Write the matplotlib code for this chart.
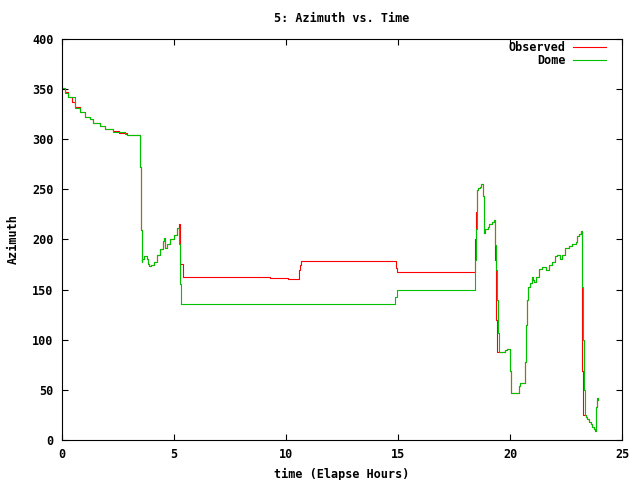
import matplotlib
matplotlib.use("Agg")
import matplotlib.pyplot as plt

# observed azimuth (red), values hold until the next time stamp
obs_t = [0.00, 0.13, 0.28, 0.43, 0.58, 0.81, 1.03, 1.26, 1.40, 1.70, 1.93, 2.29, 2.55, 2.90,
         3.47, 3.53, 3.56, 3.59, 3.65, 3.80, 3.83, 3.87, 3.99, 4.10, 4.25, 4.39, 4.50, 4.54,
         4.59, 4.69, 4.84, 4.99, 5.14, 5.22, 5.29, 5.40, 9.30, 10.10, 10.60, 10.64, 10.69,
         14.89, 14.95, 18.44, 18.47, 18.52, 18.565, 18.64, 18.71, 18.79, 18.82, 18.85, 18.89,
         19.00, 19.07, 19.19, 19.27, 19.34, 19.37, 19.42, 19.76, 19.87, 19.99, 20.03, 20.39,
         20.43, 20.69, 20.73, 20.76, 20.81, 20.88, 20.96, 21.02, 21.06, 21.17, 21.29, 21.43,
         21.61, 21.73, 21.88, 22.03, 22.11, 22.21, 22.33, 22.44, 22.63, 22.75, 22.93, 22.99,
         23.08, 23.18, 23.20, 23.21, 23.27, 23.38, 23.45, 23.53, 23.60, 23.68, 23.75, 23.80,
         23.83, 23.87, 23.95]
obs_az = [351, 347, 342, 337, 332, 327, 322, 320, 316, 313, 310, 308, 306, 304,
          272, 209, 178, 181, 184, 181, 176, 174, 175, 178, 185, 191, 199, 201,
          192, 196, 200, 204, 211, 215, 176, 163, 162, 161, 170, 175, 179,
          172, 168, 200, 227, 249, 251, 252.5, 255, 243, 219, 206, 210,
          212, 215, 217, 219, 180, 120, 88, 90, 91, 69, 47, 54,
          57, 78, 115, 140, 153, 157, 163, 160, 158, 163, 171, 173,
          170, 175, 178, 184, 185, 181, 185, 192, 194, 196, 198, 203,
          205, 208, 163, 69, 25, 23, 21, 18, 16, 13, 11, 9,
          33, 42, 40]

# dome azimuth (green)
dome_t = [0.00, 0.13, 0.28, 0.58, 0.81, 1.03, 1.26, 1.40, 1.70, 1.93, 2.29, 2.83, 2.90,
          3.47, 3.53, 3.56, 3.59, 3.65, 3.80, 3.83, 3.87, 3.99, 4.10, 4.25, 4.39, 4.50, 4.54,
          4.59, 4.69, 4.84, 4.99, 5.14, 5.22, 5.26, 5.31, 14.86, 14.95, 18.44, 18.47, 18.52,
          18.565, 18.64, 18.71, 18.79, 18.82, 18.85, 18.89, 19.00, 19.07, 19.19, 19.27, 19.34,
          19.39, 19.42, 19.46, 19.49, 19.76, 19.87, 19.99, 20.03, 20.39, 20.43, 20.69, 20.73,
          20.76, 20.81, 20.88, 20.96, 21.02, 21.06, 21.17, 21.29, 21.43, 21.61, 21.73, 21.88,
          22.03, 22.11, 22.21, 22.33, 22.44, 22.63, 22.75, 22.93, 22.99, 23.08, 23.18, 23.20,
          23.23, 23.27, 23.32, 23.35, 23.38, 23.45, 23.53, 23.60, 23.68, 23.75, 23.80, 23.83,
          23.87, 23.95]
dome_az = [351, 346, 342, 331, 327, 322, 320, 316, 313, 310, 307, 305, 304,
           272, 209, 178, 181, 184, 181, 176, 174, 175, 178, 185, 191, 199, 201,
           192, 196, 200, 204, 211, 196, 156, 136, 143, 150, 180, 210, 249,
           251, 252.5, 255, 243, 219, 206, 210, 212, 215, 217, 219, 195,
           170, 140, 107, 88, 90, 91, 69, 47, 54, 57, 78, 115,
           140, 153, 157, 163, 160, 158, 163, 171, 173, 170, 175, 178,
           184, 185, 181, 185, 192, 194, 196, 198, 203, 205, 208, 186,
           153, 100, 50, 25, 23, 21, 18, 16, 13, 11, 9, 33,
           42, 40]

xticks = [0, 5, 10, 15, 20, 25]
yticks = [0, 50, 100, 150, 200, 250, 300, 350, 400]

font = {"family": "DejaVu Sans Mono", "weight": "bold", "size": 8.5}
plt.rcParams["font.family"] = "DejaVu Sans Mono"
plt.rcParams["font.weight"] = "bold"
plt.rcParams["font.size"] = 8.5

fig = plt.figure(figsize=(6.4, 4.8), dpi=100)
ax = fig.add_axes([62 / 640, 40 / 480, 560 / 640, 401 / 480])
ax.plot(obs_t, obs_az, color="#ff0000", lw=0.8, drawstyle="steps-post",
        snap=True, label="Observed")
ax.plot(dome_t, dome_az, color="#00c000", lw=0.8, drawstyle="steps-post",
        snap=True, label="Dome")
ax.set_xlim(0, 25)
ax.set_ylim(0, 400)
ax.set_xticks(xticks)
ax.set_yticks(yticks)
ax.tick_params(direction="in", top=True, right=True, length=4, width=0.8, pad=6)
for s in ax.spines.values():
    s.set_linewidth(0.8)
ax.set_title("5: Azimuth vs. Time", fontdict=font, pad=12)
ax.set_xlabel("time (Elapse Hours)", fontdict=font, labelpad=5)
ax.set_ylabel("Azimuth", fontdict=font, labelpad=9)
ax.legend(loc="upper right", bbox_to_anchor=(0.971, 0.994), frameon=False,
          markerfirst=False, handlelength=2.8, borderaxespad=0, borderpad=0,
          labelspacing=0.0, handletextpad=0.6)
fig.savefig("out.png", dpi=100)
